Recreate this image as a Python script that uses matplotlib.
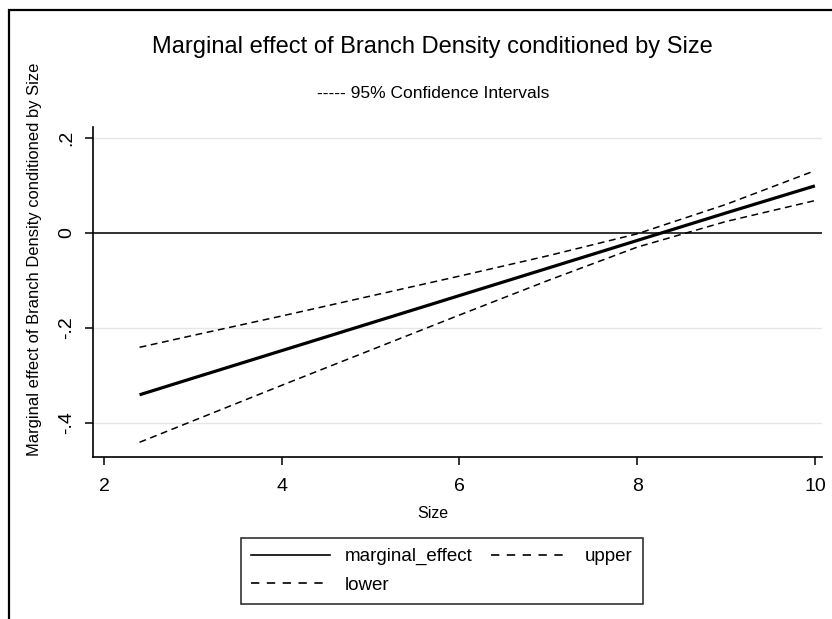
import matplotlib
matplotlib.use("Agg")
import matplotlib.pyplot as plt
from matplotlib.lines import Line2D
from matplotlib.patches import Rectangle

plt.rcParams['font.family'] = ['Liberation Sans', 'DejaVu Sans']

# values
size = [2.4, 3, 4, 5, 6, 7, 8, 9, 10]
marginal_effect = [-0.341, -0.306, -0.248, -0.190, -0.132, -0.074, -0.016, 0.042, 0.099]
upper = [-0.241, -0.216, -0.175, -0.133, -0.091, -0.048, -0.002, 0.060, 0.131]
lower = [-0.441, -0.396, -0.321, -0.247, -0.173, -0.100, -0.030, 0.024, 0.068]

xticks = [2, 4, 6, 8, 10]
yticks = [0.2, 0, -0.2, -0.4]
ytick_labels = ['.2', '0', '-.2', '-.4']

W, H = 832, 619
fig = plt.figure(figsize=(W / 100, H / 100), dpi=100)
fig.patch.set_facecolor('white')

# outer frame
fig.patches.append(Rectangle((9 / W, -0.05), 1.1, 1 - 10 / H + 0.05, transform=fig.transFigure,
                             fill=False, edgecolor='black', lw=1.6))

ax = fig.add_axes([93 / W, 1 - 457 / H, (822 - 93) / W, (457 - 127) / H])
ax.set_xlim(1.876, 10.08)
ax.set_ylim(-0.472, 0.223)

for s in ['top', 'right']:
    ax.spines[s].set_visible(False)
for s in ['left', 'bottom']:
    ax.spines[s].set_linewidth(1.2)

ax.set_xticks(xticks)
ax.set_yticks(yticks)
ax.set_yticklabels(ytick_labels, rotation=90, va='center')
ax.tick_params(axis='both', length=6, width=1.1, labelsize=14)
ax.tick_params(axis='x', pad=9)
ax.tick_params(axis='y', pad=7)

for y in [0.2, -0.2, -0.4]:
    ax.axhline(y, color='#e6e6e6', lw=1, zorder=0)
ax.axhline(0, color='#222222', lw=1.3, zorder=1)

ax.plot(size, marginal_effect, color='black', lw=2.3, solid_capstyle='butt', zorder=3)
ax.plot(size, upper, color='black', lw=1.1, dashes=(4.5, 3), zorder=3)
ax.plot(size, lower, color='black', lw=1.1, dashes=(4.5, 3), zorder=3)

fig.text(432 / W, 1 - 47 / H, 'Marginal effect of Branch Density conditioned by Size',
         ha='center', va='center', fontsize=17)
fig.text(433 / W, 1 - 93 / H, '----- 95% Confidence Intervals',
         ha='center', va='center', fontsize=12.5)
fig.text(35 / W, 1 - 259 / H, 'Marginal effect of Branch Density conditioned by Size',
         ha='center', va='center', rotation=90, fontsize=11.9)
fig.text(433 / W, 1 - 514 / H, 'Size', ha='center', va='center', fontsize=11.5)

handles = [Line2D([], [], color='black', lw=1.2),
           Line2D([], [], color='black', lw=1.2, dashes=(5, 4.5)),
           Line2D([], [], color='black', lw=1.2, dashes=(5, 4.5))]
labels = ['marginal_effect', 'lower', 'upper']
leg = fig.legend(handles, labels, loc='center', ncol=2,
                 bbox_to_anchor=(442 / W, 1 - 571 / H), fontsize=13.5,
                 frameon=True, fancybox=False, edgecolor='black', handlelength=4.2,
                 handletextpad=0.8, columnspacing=1.0, labelspacing=0.6, borderpad=0.55)
leg.get_frame().set_linewidth(1.2)

fig.savefig('out.png', dpi=100)
